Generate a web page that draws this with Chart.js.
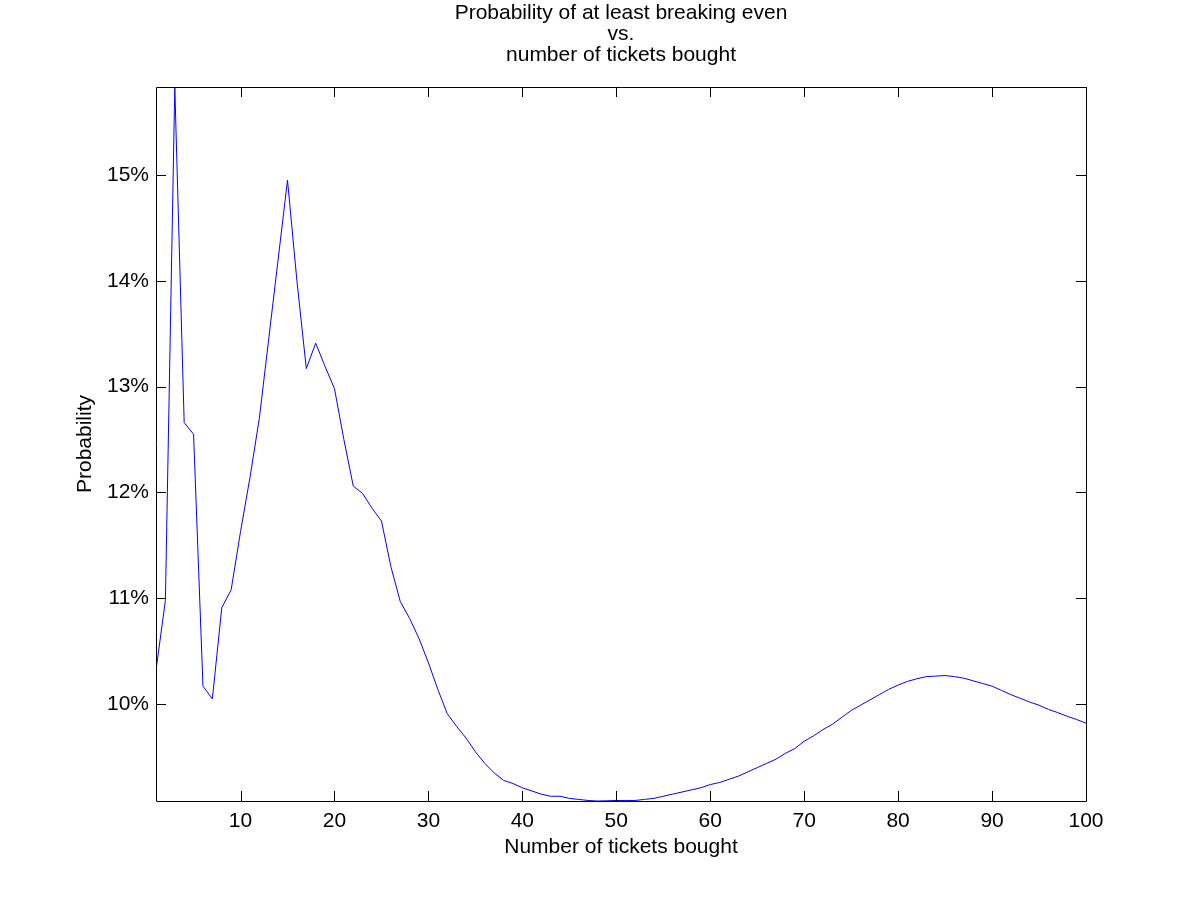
<!DOCTYPE html>
<html>
<head>
<meta charset="utf-8">
<script src="https://cdn.jsdelivr.net/npm/chart.js@4"></script>
<style>
  html, body { margin: 0; padding: 0; background: #fff; }
</style>
</head>
<body>
<canvas id="Tickets" width="1200" height="900"></canvas>
<script>
// number of tickets bought, 1..100
const tickets = [
  1, 2, 3, 4, 5, 6, 7, 8, 9, 10,
  11, 12, 13, 14, 15, 16, 17, 18, 19, 20,
  21, 22, 23, 24, 25, 26, 27, 28, 29, 30,
  31, 32, 33, 34, 35, 36, 37, 38, 39, 40,
  41, 42, 43, 44, 45, 46, 47, 48, 49, 50,
  51, 52, 53, 54, 55, 56, 57, 58, 59, 60,
  61, 62, 63, 64, 65, 66, 67, 68, 69, 70,
  71, 72, 73, 74, 75, 76, 77, 78, 79, 80,
  81, 82, 83, 84, 85, 86, 87, 88, 89, 90,
  91, 92, 93, 94, 95, 96, 97, 98, 99, 100
];
// probability of at least breaking even, in percent
const probability = [
  10.32, 10.98, 15.83, 12.66, 12.55, 10.17, 10.05, 10.91, 11.08, 11.63,
  12.14, 12.70, 13.45, 14.20, 14.95, 14.00, 13.17, 13.41, 13.19, 12.98,
  12.50, 12.06, 11.99, 11.85, 11.73, 11.30, 10.97, 10.81, 10.62, 10.39,
  10.14, 9.91, 9.79, 9.68, 9.55, 9.44, 9.35, 9.28, 9.25, 9.21,
  9.18, 9.15, 9.13, 9.13, 9.11, 9.10, 9.09, 9.085, 9.087, 9.09,
  9.09, 9.09, 9.10, 9.11, 9.13, 9.15, 9.17, 9.19, 9.21, 9.24,
  9.26, 9.29, 9.32, 9.36, 9.40, 9.44, 9.48, 9.535, 9.58, 9.65,
  9.70, 9.76, 9.81, 9.875, 9.94, 9.99, 10.04, 10.09, 10.14, 10.18,
  10.215, 10.24, 10.26, 10.265, 10.27, 10.26, 10.245, 10.22, 10.195, 10.17,
  10.13, 10.09, 10.055, 10.02, 9.99, 9.95, 9.92, 9.885, 9.855, 9.82
];
const xTicks = [10, 20, 30, 40, 50, 60, 70, 80, 90, 100];
const yTicks = [10, 11, 12, 13, 14, 15];

const font = "'Liberation Sans', Arial, Helvetica, sans-serif";
const txt = { family: font, size: 21, weight: "normal", lineHeight: 1.0 };

// MATLAB style box with inward ticks on all four sides
const boxTicks = {
  id: 'boxTicks',
  afterDraw(chart) {
    const { ctx, chartArea: a, scales } = chart;
    const len = 10;
    ctx.save();
    ctx.strokeStyle = '#000';
    ctx.lineWidth = 1;
    ctx.beginPath();
    ctx.rect(a.left + 0.5, a.top + 0.5, a.right - a.left, a.bottom - a.top);
    scales.x.ticks.forEach(t => {
      const px = Math.round(scales.x.getPixelForValue(t.value)) + 0.5;
      ctx.moveTo(px, a.bottom); ctx.lineTo(px, a.bottom - len);
      ctx.moveTo(px, a.top); ctx.lineTo(px, a.top + len);
    });
    scales.y.ticks.forEach(t => {
      const py = Math.round(scales.y.getPixelForValue(t.value)) + 0.5;
      ctx.moveTo(a.left, py); ctx.lineTo(a.left + len, py);
      ctx.moveTo(a.right, py); ctx.lineTo(a.right - len, py);
    });
    ctx.stroke();
    ctx.restore();
  }
};

new Chart("Tickets", {
  type: "line",
  data: {
    labels: tickets,
    datasets: [{
      label: "Probability",
      data: tickets.map((t, i) => ({ x: t, y: probability[i] })),
      borderColor: "#0000ff",
      borderWidth: 1,
      pointRadius: 0,
      tension: 0,
      fill: false
    }]
  },
  options: {
    responsive: false,
    devicePixelRatio: 1,
    animation: false,
    layout: { padding: { left: 42, right: 0, top: 0, bottom: 0 } },
    plugins: {
      legend: { display: false },
      tooltip: { enabled: false },
      title: {
        display: true,
        text: ["Probability of at least breaking even", "vs.", "number of tickets bought"],
        color: "#000",
        font: txt,
        padding: { top: 3, bottom: 21 }
      }
    },
    scales: {
      x: {
        type: "linear",
        min: 1,
        max: 100,
        afterBuildTicks: s => { s.ticks = xTicks.map(v => ({ value: v })); },
        afterFit: s => { s.height = 99; },
        grid: { display: false, drawTicks: false },
        border: { display: false },
        ticks: { color: "#000", padding: 10, maxRotation: 0, font: txt },
        title: {
          display: true,
          text: "Number of tickets bought",
          color: "#000",
          font: txt,
          padding: { top: 0, bottom: 42 }
        }
      },
      y: {
        min: 9.085,
        max: 15.83,
        afterBuildTicks: s => { s.ticks = yTicks.map(v => ({ value: v })); },
        afterFit: s => { s.width = 114; },
        grid: { display: false, drawTicks: false },
        border: { display: false },
        ticks: { color: "#000", padding: 7, font: txt, callback: v => v + "%" },
        title: {
          display: true,
          text: "Probability",
          color: "#000",
          font: txt,
          padding: { top: 33, bottom: 0 }
        }
      },
      // empty right-hand axis, only keeps the space right of the box
      right: {
        position: "right",
        afterFit: s => { s.width = 114; },
        grid: { display: false, drawTicks: false },
        border: { display: false },
        ticks: { display: false }
      }
    }
  },
  plugins: [boxTicks]
});
</script>
</body>
</html>
